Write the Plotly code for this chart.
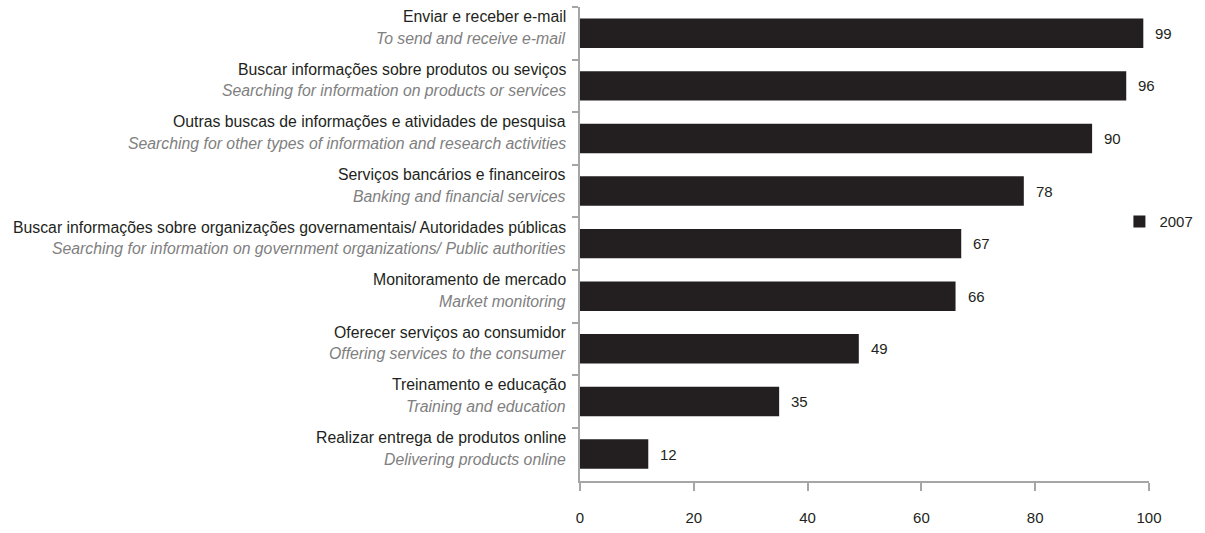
import plotly.graph_objects as go

categories_pt = [
    "Enviar e receber e-mail",
    "Buscar informações sobre produtos ou seviços",
    "Outras buscas de informações e atividades de pesquisa",
    "Serviços bancários e financeiros",
    "Buscar informações sobre organizações governamentais/ Autoridades públicas",
    "Monitoramento de mercado",
    "Oferecer serviços ao consumidor",
    "Treinamento e educação",
    "Realizar entrega de produtos online",
]
categories_en = [
    "To send and receive e-mail",
    "Searching for information on products or services",
    "Searching for other types of information and research activities",
    "Banking and financial services",
    "Searching for information on government organizations/ Public authorities",
    "Market monitoring",
    "Offering services to the consumer",
    "Training and education",
    "Delivering products online",
]
values_2007 = [99, 96, 90, 78, 67, 66, 49, 35, 12]
series_name = "2007"
x_ticks = [0, 20, 40, 60, 80, 100]

FONT = "Liberation Sans, Arial, sans-serif"
BAR = "#231f20"
AXIS = "#a6a6a6"
LABEL_SIZE = 15.8

fig = go.Figure()
fig.add_trace(go.Bar(
    y=categories_pt, x=values_2007, orientation="h",
    marker=dict(color=BAR, line=dict(width=0)),
    name=series_name, showlegend=True,
))

annotations = []
for pt, en, v in zip(categories_pt, categories_en, values_2007):
    annotations.append(dict(x=0, xref="paper", y=pt, yref="y", text=pt,
                            xanchor="right", yanchor="middle", xshift=-12, yshift=16.5,
                            showarrow=False, font=dict(family=FONT, size=LABEL_SIZE, color="#231f20")))
    annotations.append(dict(x=0, xref="paper", y=pt, yref="y", text="<i>" + en + "</i>",
                            xanchor="right", yanchor="middle", xshift=-12, yshift=-5,
                            showarrow=False, font=dict(family=FONT, size=LABEL_SIZE, color="#808080")))
    annotations.append(dict(x=v, xref="x", y=pt, yref="y", text=str(v),
                            xanchor="left", yanchor="middle", xshift=10,
                            showarrow=False, font=dict(family=FONT, size=15, color="#231f20")))

fig.update_layout(
    width=1205, height=533,
    margin=dict(l=580, r=56, t=7, b=41),
    paper_bgcolor="white", plot_bgcolor="white",
    bargap=0.44,
    font=dict(family=FONT, size=15, color="#231f20"),
    annotations=annotations,
    legend=dict(x=0.948, xref="paper", y=0.547, yanchor="middle", xanchor="left",
                font=dict(family=FONT, size=15, color="#231f20"),
                bgcolor="rgba(0,0,0,0)", itemwidth=30),
    xaxis=dict(range=[0, 100], tickvals=x_ticks, showgrid=False, zeroline=False,
               showline=True, linecolor=AXIS, linewidth=2,
               ticks="outside", ticklen=8, tickcolor=AXIS, tickwidth=2,
               tickfont=dict(family=FONT, size=15, color="#231f20"),
               ticklabelstandoff=14),
    yaxis=dict(autorange="reversed", showgrid=False, zeroline=False,
               showline=True, linecolor=AXIS, linewidth=2,
               ticks="outside", ticklen=6, tickcolor=AXIS, tickwidth=2,
               tickson="boundaries", showticklabels=False),
)

fig.write_html("out.html", config={"displayModeBar": False},
               post_script="document.body.style.margin='0';document.body.style.overflow='hidden';")
